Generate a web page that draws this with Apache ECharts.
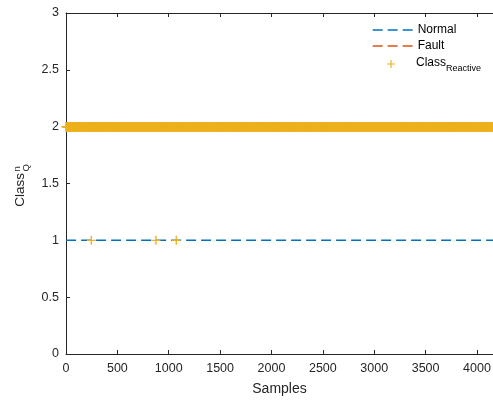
<!DOCTYPE html>
<html>
<head>
<meta charset="utf-8">
<script src="https://cdn.jsdelivr.net/npm/echarts@6/dist/echarts.min.js"></script>
<style>
html,body{margin:0;padding:0;background:#fff;}
#chart{width:493px;height:400px;}
</style>
</head>
<body>
<div id="chart"></div>
<script>
// ---- data ----
const sampleRange = [1, 4156];          // first / last sample index
const normalValues = [1, 1];            // Normal reference level (constant)
const faultValues = [2, 2];             // Fault reference level (constant)
const reactiveBaseClass = 2;            // Class_Reactive value for almost all samples
const reactiveDipSamples = [246, 875, 1073]; // samples where Class_Reactive = 1
const reactiveDipClass = 1;
const seriesNames = ['Normal', 'Fault', 'ClassReactive'];

// ---- build series data ----
const normalData = [[sampleRange[0], normalValues[0]], [sampleRange[1], normalValues[1]]];
const faultData = [[sampleRange[0], faultValues[0]], [sampleRange[1], faultValues[1]]];
const reactiveData = [];
for (let s = sampleRange[0]; s <= sampleRange[1]; s++) {
  reactiveData.push([s, reactiveDipSamples.indexOf(s) >= 0 ? reactiveDipClass : reactiveBaseClass]);
}

const FONT = 'Liberation Sans';
const TXT = '#262626';
const crossPath = 'path://M-0.75,-5H0.75V-0.75H5V0.75H0.75V5H-0.75V0.75H-5V-0.75H-0.75Z';

const chart = echarts.init(document.getElementById('chart'), null, {renderer: 'canvas'});

const axisCommon = {
  axisLine: {show: true, lineStyle: {color: TXT, width: 1}},
  axisTick: {show: true, inside: true, length: 4, lineStyle: {color: TXT}},
  splitLine: {show: false}
};
const plainNum = function (v) { return String(v); };

const legendBase = {
  orient: 'vertical',
  left: 372,
  padding: 0,
  itemWidth: 40,
  itemHeight: 10,
  selectedMode: false,
  itemStyle: {opacity: 0},
  lineStyle: {width: 1.3},
  textStyle: {fontFamily: FONT, fontSize: 12, color: '#000', lineHeight: 14}
};

chart.setOption({
  animation: false,
  backgroundColor: '#fff',
  textStyle: {fontFamily: FONT},
  grid: {left: 66, right: 0, top: 13, bottom: 46, containLabel: false, outerBoundsMode: 'none'},
  legend: [
    Object.assign({}, legendBase, {top: 23, data: [seriesNames[0]]}),
    Object.assign({}, legendBase, {top: 39, data: [seriesNames[1]]}),
    {
      orient: 'vertical', left: 387, top: 57, padding: 0,
      itemWidth: 40, itemHeight: 8, selectedMode: false, symbolKeepAspect: true,
      data: [{name: seriesNames[2], icon: crossPath}],
      itemStyle: {color: '#EDB120', opacity: 1},
      formatter: function () { return '{b|Class}{s|Reactive}'; },
      textStyle: {
        fontFamily: FONT, color: '#000',
        rich: {
          b: {fontFamily: FONT, fontSize: 12, lineHeight: 14, verticalAlign: 'top', color: '#000'},
          s: {fontFamily: FONT, fontSize: 9, lineHeight: 11, padding: [7, 0, 0, 0], verticalAlign: 'top', color: '#000'}
        }
      }
    }
  ],
  xAxis: [
    Object.assign({}, axisCommon, {
      type: 'value', position: 'bottom', min: 0, max: sampleRange[1], interval: 500,
      name: 'Samples', nameLocation: 'middle', nameGap: 28,
      nameTextStyle: {fontFamily: FONT, fontSize: 14, color: TXT},
      axisLabel: {fontFamily: FONT, fontSize: 12.5, color: TXT, margin: 8, showMaxLabel: false, formatter: plainNum}
    }),
    Object.assign({}, axisCommon, {
      type: 'value', position: 'top', min: 0, max: sampleRange[1], interval: 500,
      axisLabel: {show: false}
    })
  ],
  yAxis: [
    Object.assign({}, axisCommon, {
      type: 'value', position: 'left', min: 0, max: 3, interval: 0.5,
      axisLabel: {fontFamily: FONT, fontSize: 12.5, color: TXT, margin: 7, formatter: plainNum}
    })
  ],
  graphic: [{
    type: 'group',
    x: 20, y: 173,
    rotation: Math.PI / 2,
    children: [
      {type: 'text', x: 0, y: 0, style: {text: 'Class', fontFamily: FONT, fontSize: 13.5, fill: TXT, align: 'right', verticalAlign: 'middle'}},
      {type: 'text', x: 1.5, y: -3, style: {text: 'n', fontFamily: FONT, fontSize: 9.5, fill: TXT, align: 'left', verticalAlign: 'middle'}},
      {type: 'text', x: 1.5, y: 6, style: {text: 'Q', fontFamily: FONT, fontSize: 9.5, fill: TXT, align: 'left', verticalAlign: 'middle'}}
    ]
  }],
  series: [
    {
      name: seriesNames[0], type: 'line', data: normalData, symbol: 'none', showSymbol: false,
      lineStyle: {color: '#0072BD', width: 1.5, type: [10, 5]}, itemStyle: {color: '#0072BD'},
      silent: true, z: 2
    },
    {
      name: seriesNames[1], type: 'line', data: faultData, symbol: 'none', showSymbol: false,
      lineStyle: {color: '#D95319', width: 1.5, type: [10, 5]}, itemStyle: {color: '#D95319'},
      silent: true, z: 3
    },
    {
      name: seriesNames[2], type: 'scatter', data: reactiveData,
      symbol: crossPath, symbolSize: 9, symbolKeepAspect: true,
      itemStyle: {color: '#EDB120', opacity: 1},
      silent: true, z: 4, large: false, clip: false
    }
  ]
});
</script>
</body>
</html>
